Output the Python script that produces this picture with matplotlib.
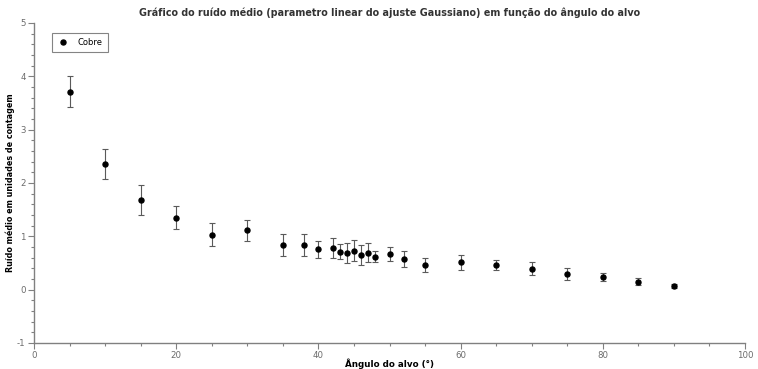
import matplotlib
matplotlib.use("Agg")
import matplotlib.pyplot as plt
from matplotlib.ticker import MultipleLocator

matplotlib.rcParams.update({
    "font.family": "DejaVu Sans",
    "font.size": 6,
    "axes.unicode_minus": False,
})

# ── Data ────────────────────────────────────────────────────────────────────
angulo = [5, 10, 15, 20, 25, 30, 35, 38, 40, 42, 43, 44, 45, 46, 47, 48,
          50, 52, 55, 60, 65, 70, 75, 80, 85, 90]
ruido = [3.71, 2.35, 1.68, 1.35, 1.03, 1.11, 0.84, 0.84, 0.76, 0.78, 0.71,
         0.69, 0.73, 0.65, 0.69, 0.62, 0.675, 0.58, 0.46, 0.51, 0.46, 0.39,
         0.295, 0.24, 0.145, 0.075]
erro = [0.29, 0.28, 0.28, 0.21, 0.22, 0.19, 0.21, 0.21, 0.16, 0.19, 0.14,
        0.19, 0.20, 0.18, 0.18, 0.10, 0.13, 0.15, 0.13, 0.14, 0.10, 0.12,
        0.11, 0.08, 0.065, 0.04]

AXIS_GREY = "#808080"
TICK_TEXT = "#6b6b6b"

fig = plt.figure(figsize=(7.58, 3.69), dpi=100)
ax = fig.add_axes([34 / 758, 1 - 343 / 369, 711 / 758, 320 / 369])

# error bars (grey) and the points on top (black)
ax.errorbar(angulo, ruido, yerr=erro, fmt="none", ecolor="#5a5a5a",
            elinewidth=0.8, capsize=2.3, capthick=0.8, zorder=2)
ax.plot(angulo, ruido, "o", color="black", markersize=3.6, label="Cobre",
        zorder=3)

ax.set_xlim(0, 100)
ax.set_ylim(-1, 5)
ax.xaxis.set_major_locator(MultipleLocator(20))
ax.xaxis.set_minor_locator(MultipleLocator(5))
ax.yaxis.set_major_locator(MultipleLocator(1))
ax.yaxis.set_minor_locator(MultipleLocator(0.2))

for side in ("top", "right"):
    ax.spines[side].set_visible(False)
for side in ("left", "bottom"):
    ax.spines[side].set_color(AXIS_GREY)
    ax.spines[side].set_linewidth(1.0)

ax.tick_params(which="major", length=4, width=0.8, color=AXIS_GREY,
               labelcolor=TICK_TEXT, labelsize=6.2, pad=2)
ax.tick_params(which="minor", length=2, width=0.8, color=AXIS_GREY)

ax.set_title("Gráfico do ruído médio (parametro linear do ajuste Gaussiano) "
             "em função do ângulo do alvo",
             fontsize=6.9, fontweight="bold", color="#333333", pad=5)
ax.set_xlabel("Ângulo do alvo (°)", fontsize=6.3, fontweight="bold")
ax.set_ylabel("Ruído médio em unidades de contagem", fontsize=5.8,
              fontweight="bold")
ax.xaxis.set_label_coords(0.5, -0.048)
ax.yaxis.set_label_coords(-0.027, 0.5)

leg = ax.legend(loc="upper left", bbox_to_anchor=(0.025, 0.97), frameon=True,
                fancybox=False, fontsize=6, handletextpad=1.0,
                borderpad=0.6, handlelength=1.5, borderaxespad=0)
leg.get_frame().set_edgecolor("#666666")
leg.get_frame().set_linewidth(0.8)

fig.savefig("out.png", dpi=100)
